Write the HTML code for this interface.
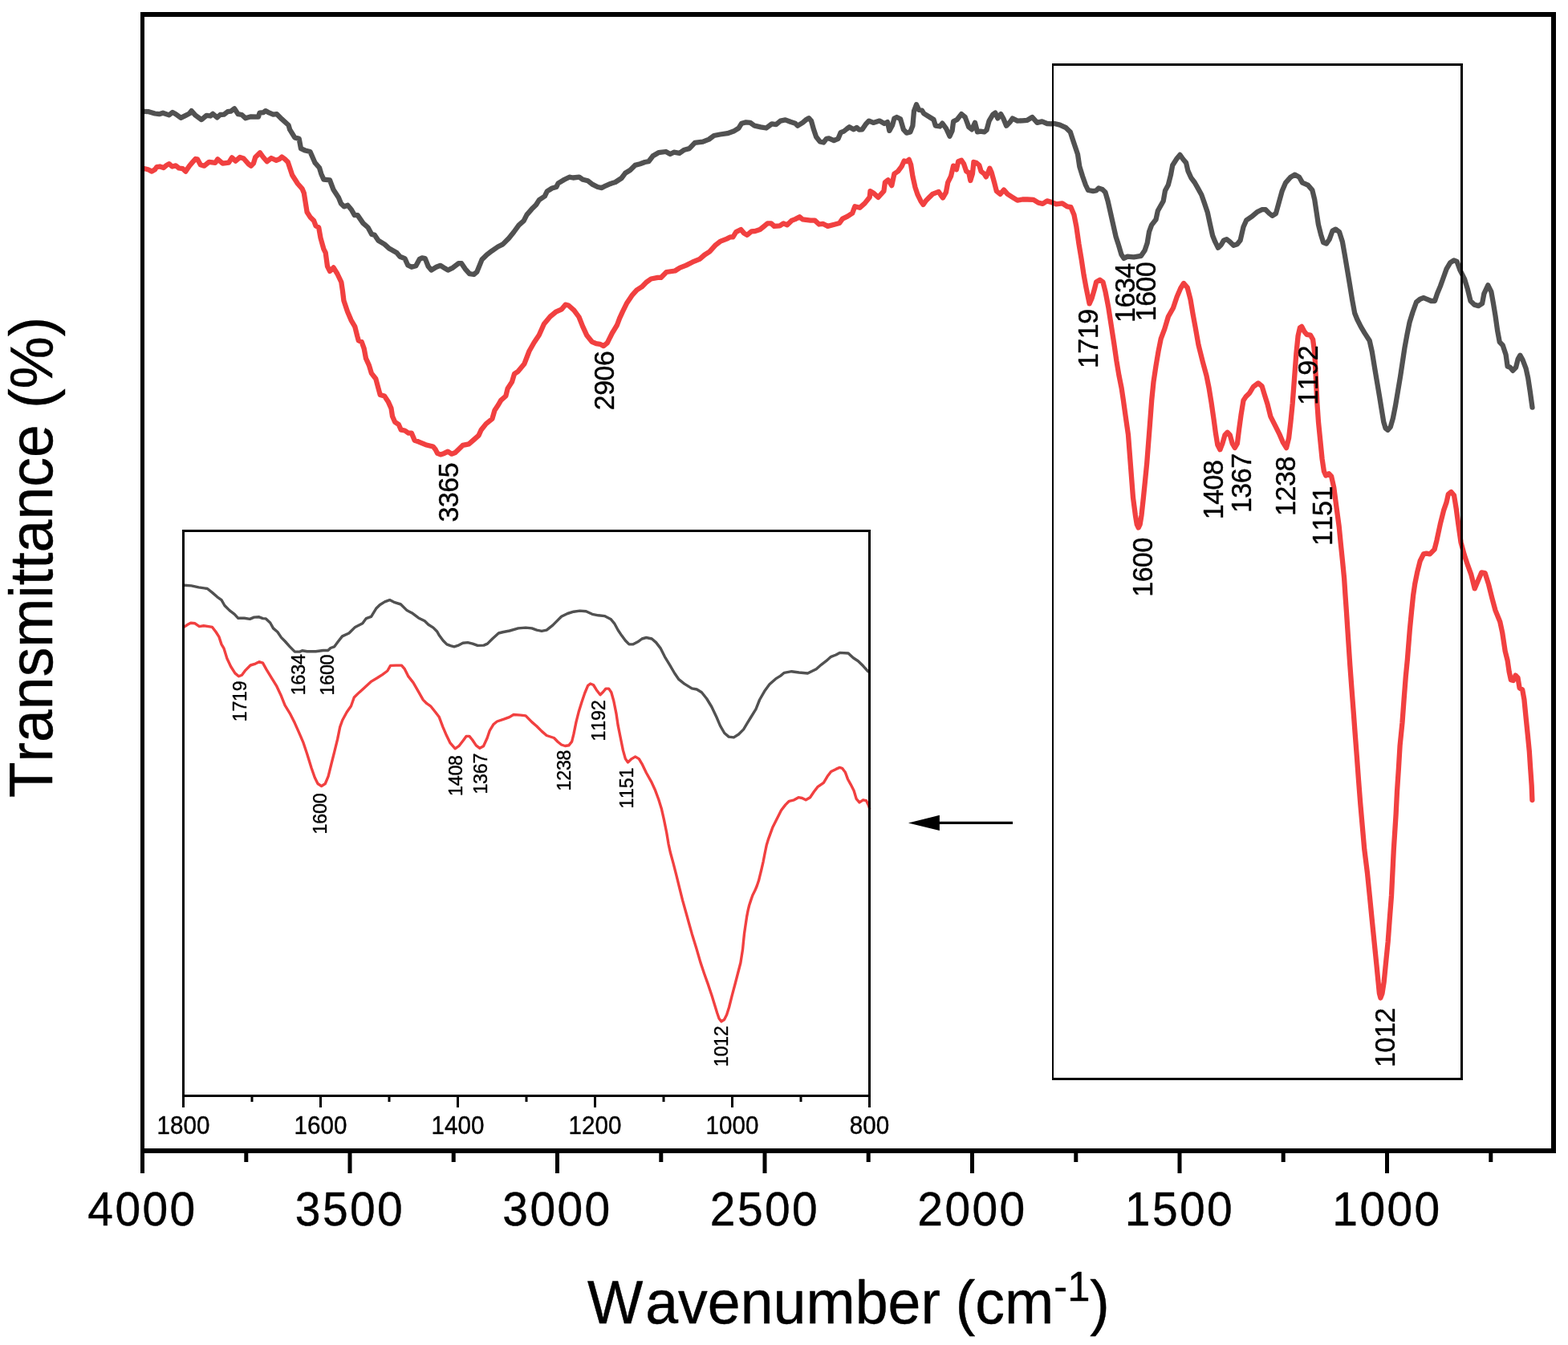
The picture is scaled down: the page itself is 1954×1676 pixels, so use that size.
<!DOCTYPE html>
<html lang="en">
<head>
<meta charset="utf-8">
<title>FTIR spectra</title>
<style>
html,body{margin:0;padding:0;background:#fff;}
body{width:1954px;height:1676px;overflow:hidden;}
svg{display:block;}
text{font-family:"Liberation Sans", Arial, Helvetica, sans-serif;fill:#000;font-kerning:none;stroke:#000;stroke-width:0.4px;stroke-linejoin:round;}
</style>
</head>
<body>
<svg width="1954" height="1676" viewBox="0 0 1954 1676">
<rect x="0" y="0" width="1954" height="1676" fill="#fff"/>
<g fill="none" stroke-linejoin="round" stroke-linecap="round">
<polyline stroke="#515151" stroke-width="6.3" points="178.4,138.8 185.4,139.2 193.0,141.5 198.4,142.2 203.0,140.7 210.7,143.4 215.0,139.9 219.1,142.2 225.3,146.8 231.4,143.8 236.0,141.5 238.6,138.1 243.7,143.8 251.1,149.1 257.5,143.8 262.1,144.5 265.2,141.8 270.6,146.4 274.4,143.0 279.0,142.7 283.6,139.2 287.5,138.7 292.1,135.3 296.7,142.2 301.3,143.0 305.9,147.3 312.8,145.3 322.0,145.6 323.5,140.7 328.1,140.2 330.9,138.1 335.8,140.7 340.4,142.7 345.0,142.2 351.2,148.4 359.6,156.0 361.1,161.4 367.3,171.4 372.7,172.9 375.0,185.2 380.3,187.5 386.5,189.0 392.6,202.9 398.0,209.0 400.3,216.7 403.4,223.6 411.0,224.4 415.6,236.6 421.8,245.9 424.9,253.5 428.7,257.4 433.3,255.8 437.9,261.2 441.8,268.1 445.6,268.1 452.5,278.1 458.6,283.5 463.2,291.9 466.9,292.9 471.5,299.8 479.2,304.4 485.3,309.8 494.5,315.1 498.4,319.8 504.5,322.1 508.3,330.5 512.9,332.8 518.3,331.3 522.9,322.8 526.0,321.3 529.8,322.1 533.7,332.0 537.5,336.6 543.7,332.8 549.0,330.8 554.4,334.3 558.2,336.6 564.4,333.6 571.3,328.2 575.1,328.2 579.7,335.1 585.1,341.2 590.5,342.0 594.3,338.9 600.5,323.6 606.6,317.5 612.7,312.8 620.4,307.5 626.6,304.4 634.2,296.7 640.4,289.0 646.5,280.6 652.7,275.2 656.5,267.6 662.6,260.6 668.0,255.3 671.9,249.1 678.8,244.5 681.8,238.4 688.0,234.5 693.3,233.0 695.6,228.4 703.3,223.8 709.5,220.7 714.1,221.5 721.8,220.7 726.4,223.8 732.5,225.3 738.6,229.9 744.8,233.0 750.0,234.1 754.6,231.6 760.7,228.9 766.8,227.0 774.5,222.0 779.1,215.8 785.3,212.0 791.4,205.9 797.6,204.3 803.7,202.0 808.3,201.2 813.7,194.3 820.6,190.2 829.8,189.0 835.2,192.0 839.8,189.7 846.7,190.8 852.8,186.7 859.0,185.1 865.9,177.9 875.9,176.7 883.5,173.6 889.7,169.0 897.3,167.5 906.6,166.2 914.2,163.6 920.4,159.8 924.2,153.7 929.6,152.4 935.0,152.9 940.3,156.7 948.0,158.3 954.9,159.5 961.8,154.4 967.2,155.2 972.6,150.6 978.7,149.4 984.9,151.8 991.0,153.7 994.1,156.7 1000.2,152.9 1004.8,149.0 1007.9,147.2 1011.0,150.6 1014.0,161.3 1017.1,170.5 1021.7,176.4 1026.3,177.5 1030.0,172.8 1033.0,172.4 1039.2,175.1 1044.5,172.8 1047.6,165.2 1051.5,163.6 1055.3,160.6 1058.4,158.3 1063.7,161.3 1067.6,159.0 1070.6,161.6 1074.5,161.3 1079.1,154.4 1082.9,150.6 1088.3,152.9 1096.0,150.6 1102.1,154.0 1106.0,152.1 1108.3,162.9 1112.1,156.0 1114.4,147.5 1117.5,146.0 1122.1,148.3 1125.9,161.3 1129.8,165.6 1134.4,164.4 1137.4,156.7 1139.0,138.3 1142.0,130.3 1145.1,136.8 1148.9,137.5 1151.2,141.4 1157.4,145.2 1163.5,149.0 1165.8,156.7 1171.2,157.5 1174.3,153.7 1178.9,159.8 1183.5,169.8 1186.6,162.9 1188.1,151.4 1192.7,149.0 1198.1,142.1 1202.7,146.0 1207.3,158.3 1211.1,161.3 1215.0,152.9 1218.0,164.4 1221.9,163.6 1226.5,164.4 1229.5,162.1 1232.6,150.6 1237.2,142.9 1240.3,140.6 1243.4,147.5 1247.2,142.1 1250.3,147.5 1254.1,156.7 1258.7,152.1 1261.8,147.5 1267.9,150.6 1274.1,150.3 1280.2,149.8 1286.4,146.0 1292.5,152.9 1298.6,151.4 1304.8,154.0 1310.0,154.4 1313.0,153.8 1320.7,155.6 1328.4,159.2 1333.8,164.5 1336.8,173.7 1339.9,182.9 1343.0,192.2 1345.3,207.5 1349.1,219.8 1352.9,230.5 1356.0,237.0 1362.2,238.2 1366.0,237.5 1369.1,234.4 1373.7,235.9 1377.5,239.8 1380.6,250.5 1383.7,264.3 1387.5,281.2 1390.6,295.0 1393.6,304.2 1397.5,317.3 1400.5,321.9 1405.1,319.6 1412.8,320.4 1422.0,318.8 1426.6,311.9 1429.7,302.7 1432.0,288.9 1435.1,280.4 1440.5,273.5 1442.8,262.8 1449.7,250.5 1452.0,237.5 1455.8,230.5 1458.9,218.3 1461.2,206.0 1466.6,197.5 1470.4,192.9 1474.2,198.3 1478.1,202.9 1480.4,212.9 1484.2,221.3 1488.8,227.5 1492.7,234.4 1497.3,242.8 1501.1,253.6 1504.9,265.1 1508.0,279.7 1511.1,293.5 1514.2,301.2 1518.0,308.8 1521.8,305.0 1524.9,299.6 1528.7,298.1 1532.6,301.2 1537.2,305.8 1541.8,304.2 1545.6,299.6 1549.5,282.7 1553.3,274.3 1560.2,269.7 1566.4,264.3 1572.5,261.2 1577.1,261.2 1581.7,265.9 1585.5,268.9 1590.0,266.0 1593.8,252.2 1597.6,238.3 1602.2,227.6 1608.4,220.7 1613.8,217.6 1619.1,220.7 1623.0,227.6 1629.9,230.7 1635.3,236.8 1638.3,249.1 1640.6,264.4 1642.9,279.8 1646.0,292.1 1649.1,302.1 1652.9,303.6 1656.7,298.2 1660.6,287.5 1664.4,285.6 1669.0,289.0 1672.9,301.3 1675.9,318.2 1679.0,336.6 1682.1,355.0 1685.1,373.4 1688.2,390.3 1691.3,398.0 1695.9,407.2 1700.5,414.9 1706.7,424.5 1709.8,438.3 1712.8,456.8 1715.9,475.2 1719.0,493.6 1722.0,512.0 1724.3,525.9 1726.6,533.5 1729.4,535.8 1732.8,532.0 1735.9,521.2 1738.9,505.9 1742.0,487.5 1745.1,469.0 1747.4,453.7 1750.4,433.7 1753.5,416.8 1756.6,401.5 1760.4,389.2 1765.0,376.5 1769.6,372.7 1774.2,371.1 1779.6,373.4 1783.4,375.0 1788.0,375.0 1791.1,365.8 1794.9,356.6 1798.8,345.8 1802.6,335.1 1807.2,327.4 1811.8,324.3 1815.6,325.9 1819.5,336.6 1824.9,347.3 1828.7,359.6 1832.5,375.0 1837.1,379.6 1842.5,381.1 1847.1,378.1 1849.4,365.8 1854.3,355.4 1858.3,363.3 1860.9,377.8 1863.5,393.5 1866.1,411.9 1868.8,426.3 1872.7,430.3 1876.6,442.1 1878.6,456.5 1881.9,457.8 1885.2,461.8 1889.1,457.8 1891.7,447.3 1894.4,442.7 1897.6,448.6 1901.6,459.1 1904.2,471.0 1906.8,488.0 1908.8,502.5 1909.5,507.7"/>
<polyline stroke="#F14040" stroke-width="6.3" points="178.4,209.8 184.6,211.3 189.2,213.6 193.0,211.3 195.3,208.2 199.2,207.5 203.8,209.0 207.6,205.9 210.7,204.1 214.5,207.5 219.1,206.4 223.0,209.5 227.6,210.2 231.4,213.6 236.0,206.7 239.9,202.1 243.7,198.0 246.0,198.3 249.8,205.2 254.4,206.7 260.6,201.8 268.3,202.9 271.3,198.3 277.5,203.6 285.1,202.6 289.0,196.4 293.6,200.6 299.0,196.0 303.6,197.5 309.7,204.4 312.8,206.7 315.9,203.6 318.2,196.0 324.0,190.3 328.1,196.0 332.7,201.3 338.1,197.0 344.3,199.8 348.1,198.3 351.2,195.5 355.0,198.3 358.8,202.1 364.2,218.2 371.1,229.0 376.5,235.1 378.8,240.5 382.6,264.3 386.5,270.4 391.1,275.0 393.4,281.2 397.2,283.5 399.5,296.5 403.4,310.3 405.7,314.9 408.0,331.8 411.0,338.0 415.6,333.4 420.3,341.0 425.3,351.5 426.9,362.2 428.4,374.5 433.0,388.3 437.6,399.1 442.2,406.8 445.3,419.0 446.8,424.4 450.7,426.0 453.7,434.4 456.0,446.7 459.9,455.1 462.9,465.1 468.3,472.0 471.4,483.5 473.7,492.0 479.1,493.5 483.7,500.4 487.5,508.9 489.0,518.8 492.1,525.8 496.7,528.8 499.8,535.7 504.4,536.5 509.0,539.6 512.8,539.6 516.7,548.8 521.3,550.3 530.5,554.2 539.7,556.5 542.8,560.3 545.1,564.9 548.9,566.4 553.5,564.9 558.1,562.6 562.7,565.7 567.3,564.1 572.0,559.5 576.6,554.9 584.2,553.4 590.4,548.0 596.5,542.6 599.6,535.7 605.7,528.1 613.4,521.9 616.5,511.2 621.1,504.3 624.2,498.9 630.3,493.5 632.6,484.3 638.0,475.9 641.0,465.9 645.6,462.8 653.3,453.6 659.5,437.5 665.6,426.7 671.8,417.5 677.9,403.7 685.6,394.5 693.2,388.3 700.0,385.3 704.6,379.7 708.4,380.5 715.3,386.6 721.5,395.0 726.1,406.6 731.4,418.1 737.6,425.8 742.9,428.1 747.6,428.8 752.2,431.1 756.8,427.3 762.9,415.0 769.0,405.0 772.1,396.6 776.0,388.1 781.3,377.4 787.5,368.2 793.6,361.3 799.8,357.4 805.9,351.3 811.3,347.5 819.7,345.9 823.6,345.9 830.5,339.0 841.2,337.5 847.3,333.6 855.0,330.6 862.7,326.7 871.9,322.9 878.1,317.5 884.2,313.7 891.9,305.2 898.0,300.6 905.7,297.6 910.3,295.3 913.4,295.3 917.2,289.1 923.3,286.0 927.2,290.6 931.0,292.9 936.4,288.3 941.0,288.0 947.1,286.0 951.8,282.2 956.4,278.4 961.0,278.4 964.8,281.9 971.7,281.4 976.3,278.4 981.0,280.3 986.4,274.9 991.0,273.1 996.4,270.3 1000.2,273.4 1010.0,274.6 1015.4,274.6 1020.7,279.5 1025.4,278.8 1031.5,281.9 1040.7,279.5 1046.1,278.0 1049.9,272.6 1056.1,269.6 1062.2,265.7 1065.3,257.3 1071.4,258.8 1077.6,253.4 1083.7,245.8 1084.5,238.1 1088.3,240.4 1094.4,245.8 1101.4,238.1 1102.9,227.3 1106.7,224.3 1111.3,231.2 1114.4,216.6 1119.0,213.5 1123.6,207.4 1126.7,200.5 1129.8,201.2 1132.8,198.9 1135.1,205.1 1137.4,219.7 1140.5,233.5 1143.6,242.7 1147.4,250.4 1150.5,255.0 1153.6,250.4 1157.4,246.5 1162.0,241.9 1169.7,238.9 1172.7,243.5 1175.0,246.5 1178.9,239.6 1181.2,227.3 1185.0,219.7 1188.1,206.6 1191.9,211.2 1194.2,201.2 1198.1,199.7 1201.1,204.3 1204.2,213.5 1207.3,215.1 1209.3,225.0 1211.9,216.6 1213.4,202.0 1216.5,202.8 1220.3,205.9 1222.6,213.5 1226.5,216.6 1228.8,220.4 1231.9,213.5 1233.4,209.7 1235.7,215.1 1239.5,228.9 1241.8,238.1 1246.4,241.9 1251.0,236.6 1255.6,241.9 1261.8,245.8 1267.9,249.6 1274.1,248.5 1280.2,248.5 1287.9,248.8 1294.0,252.7 1299.4,253.8 1304.8,250.4 1310.0,251.9 1316.1,254.3 1323.8,253.3 1329.9,257.4 1334.5,258.2 1338.4,267.4 1341.4,282.7 1344.5,304.2 1347.6,322.7 1350.6,342.6 1353.7,359.5 1357.6,378.4 1360.7,371.5 1363.8,360.7 1366.1,351.5 1370.7,348.7 1374.5,351.5 1377.6,363.8 1381.4,383.7 1384.5,403.7 1388.3,428.3 1391.4,449.8 1394.5,468.2 1397.6,483.5 1399.9,498.9 1402.9,520.4 1406.0,541.9 1412.0,620.2 1414.9,642.2 1416.8,653.7 1418.7,657.5 1420.6,653.7 1422.5,642.2 1424.9,620.2 1427.3,596.4 1429.2,577.3 1432.9,529.6 1435.2,498.9 1437.5,475.9 1440.5,455.9 1443.6,437.5 1446.7,422.1 1451.3,409.8 1455.9,394.5 1462.0,383.7 1466.6,369.9 1471.2,359.2 1475.1,353.0 1479.7,358.4 1483.5,373.0 1486.6,391.4 1489.7,408.3 1493.5,429.8 1498.9,451.3 1503.5,468.2 1506.6,483.5 1509.6,502.0 1512.7,523.4 1515.0,540.3 1517.3,554.2 1520.4,560.3 1523.4,552.6 1526.5,541.9 1529.6,538.8 1532.7,541.9 1535.7,552.6 1538.8,558.0 1541.9,552.6 1544.2,534.2 1546.5,517.3 1549.5,498.9 1552.6,494.3 1557.2,489.7 1561.8,482.0 1568.0,477.4 1572.6,481.2 1575.6,491.2 1579.5,503.5 1583.3,518.8 1589.5,531.1 1594.1,540.3 1598.7,551.1 1603.1,558.1 1606.1,545.8 1608.4,525.9 1610.7,502.8 1613.0,472.1 1615.3,441.4 1617.6,418.4 1619.9,408.4 1622.2,406.9 1625.3,413.0 1628.4,416.8 1633.0,417.6 1636.1,423.0 1638.4,441.4 1639.9,472.1 1641.4,502.8 1643.0,525.9 1645.3,548.9 1647.6,571.9 1649.9,587.3 1652.2,592.6 1656.0,590.3 1659.1,593.4 1662.2,607.2 1665.8,634.5 1668.7,656.0 1670.8,677.5 1673.0,699.0 1675.1,720.5 1676.5,742.0 1678.0,763.4 1679.4,784.9 1682.3,828.7 1684.4,857.3 1686.6,886.0 1688.7,914.6 1690.9,943.3 1693.0,972.0 1695.2,1000.6 1700.3,1058.7 1703.9,1087.3 1706.8,1116.0 1709.6,1144.6 1712.5,1173.3 1715.4,1202.0 1717.5,1223.4 1718.9,1237.8 1720.4,1243.5 1722.5,1237.8 1724.7,1223.4 1726.8,1202.0 1729.7,1173.3 1731.8,1144.6 1734.0,1116.0 1735.4,1087.3 1736.8,1058.7 1739.6,1014.9 1741.0,986.3 1742.9,957.6 1744.6,929.0 1747.5,900.3 1749.6,871.6 1751.8,843.0 1753.9,821.5 1756.8,784.9 1758.9,763.4 1761.1,742.0 1763.2,727.6 1766.1,713.3 1769.7,699.0 1774.0,690.4 1777.6,689.7 1781.9,690.4 1787.6,684.6 1790.5,673.2 1794.8,653.1 1799.1,635.9 1802.6,625.9 1804.8,615.9 1808.4,613.0 1812.0,617.3 1814.8,634.5 1817.7,656.0 1820.6,676.0 1824.9,691.8 1829.2,704.7 1833.4,716.2 1837.7,733.4 1842.0,723.3 1846.3,713.3 1850.6,714.0 1854.9,727.6 1859.2,744.8 1863.5,760.6 1869.3,774.9 1872.1,787.8 1875.7,811.5 1878.6,822.9 1880.7,837.3 1882.9,847.3 1885.8,848.0 1888.6,841.6 1891.5,844.4 1893.6,857.3 1897.2,859.5 1899.4,871.6 1901.5,893.1 1903.7,914.6 1905.8,936.1 1907.2,957.6 1908.7,979.1 1909.4,997.0"/>
</g>
<g fill="#000" shape-rendering="crispEdges">
<rect x="1311" y="79" width="2" height="1267"/>
<rect x="1820" y="79" width="3" height="1267"/>
<rect x="1311" y="79" width="512" height="3"/>
<rect x="1311" y="1343" width="512" height="3"/>
</g>
<rect x="228.5" y="661.5" width="855.0" height="704.0" fill="#fff" stroke="none"/>
<g fill="none" stroke-linejoin="round" stroke-linecap="round">
<polyline stroke="#515151" stroke-width="3.4" points="229.2,729.2 238.4,729.9 247.6,731.9 258.4,733.5 264.5,738.4 270.7,743.8 276.0,747.6 279.9,754.5 286.0,760.6 292.2,765.3 296.8,770.3 304.4,770.3 311.4,771.4 316.7,769.1 322.9,768.8 327.5,770.6 331.3,770.9 336.7,776.0 340.5,782.9 345.9,787.5 350.5,794.4 355.1,799.0 361.2,805.9 367.4,812.1 373.5,812.1 376.6,810.8 382.7,811.8 393.5,811.8 402.7,810.5 408.8,810.5 411.9,807.5 416.5,805.9 421.1,799.8 426.5,792.9 434.9,789.0 442.6,781.4 451.8,776.8 456.4,770.6 462.6,768.3 468.7,758.3 473.3,753.7 479.5,749.9 485.6,747.6 491.8,750.7 499.4,753.0 507.1,760.6 513.2,763.7 521.5,769.9 529.2,773.7 533.8,778.3 539.9,782.1 544.5,786.7 547.6,792.1 552.2,798.3 556.8,802.9 561.4,804.7 566.0,805.9 570.6,804.4 576.8,801.3 582.9,800.6 589.0,802.1 595.2,804.4 602.9,804.1 607.5,802.1 613.6,796.0 621.3,789.0 627.4,787.5 635.1,786.0 645.9,782.9 655.1,782.1 662.7,782.9 668.9,785.2 675.0,786.3 681.2,785.2 688.8,779.1 695.0,772.9 699.6,768.3 707.3,764.5 714.9,762.2 722.6,761.1 730.3,761.7 738.0,765.3 745.6,766.8 753.3,767.6 761.0,771.4 765.6,776.8 770.2,785.2 774.8,792.1 779.4,798.3 784.0,802.9 788.6,802.9 794.8,799.8 800.0,796.0 805.4,794.5 812.3,796.0 817.6,800.6 823.0,807.6 828.4,818.3 834.5,828.3 840.7,839.0 846.0,846.7 852.9,852.1 862.2,857.9 868.3,859.0 874.4,862.8 880.6,870.5 886.7,880.5 892.9,893.5 897.5,904.3 902.8,913.5 908.2,918.1 914.4,918.9 920.5,915.0 926.6,908.9 931.2,901.2 935.9,893.5 942.0,883.6 946.6,872.0 952.7,861.3 958.9,852.8 966.6,845.9 972.7,842.1 977.3,838.3 986.5,836.7 995.7,838.0 1006.5,839.0 1012.6,836.0 1017.2,833.7 1023.4,828.3 1029.5,823.7 1035.6,818.3 1041.8,816.0 1046.4,813.4 1057.1,814.0 1063.3,819.8 1069.4,823.7 1075.6,829.8 1081.7,836.7"/>
<polyline stroke="#F14040" stroke-width="3.4" points="229.2,781.4 233.8,778.3 237.7,776.3 243.0,776.8 248.4,780.6 253.8,779.8 264.5,781.4 269.1,787.5 273.0,793.7 276.0,802.9 279.1,808.2 282.9,820.5 287.6,830.5 292.9,838.9 297.5,842.8 301.4,841.2 306.0,835.1 312.1,829.0 318.3,827.1 322.9,824.7 327.5,826.2 332.1,834.3 338.2,844.3 344.4,854.3 350.5,867.3 355.1,878.9 361.2,888.8 367.4,901.1 373.5,914.9 378.1,925.7 382.7,939.5 388.1,957.0 392.2,968.8 396.0,976.5 400.6,979.6 405.3,976.5 409.1,967.3 412.9,952.0 416.8,936.6 420.6,921.2 423.7,905.9 426.7,897.5 432.1,887.5 437.5,879.8 441.3,869.0 447.5,862.9 453.6,857.5 462.8,849.1 470.5,844.5 476.6,840.6 482.8,836.0 486.6,829.4 493.5,829.1 500.4,829.1 504.3,833.7 508.9,842.9 515.0,850.6 521.2,861.4 527.3,872.1 531.9,876.7 536.5,879.8 542.7,887.5 547.3,893.6 551.9,905.9 556.5,916.6 561.1,925.9 567.2,932.8 571.8,929.7 577.2,922.8 581.0,917.4 584.9,917.4 588.7,922.0 593.3,928.9 597.9,932.3 602.5,929.7 607.1,919.7 610.2,910.5 614.8,902.8 619.4,899.0 628.6,895.9 634.8,893.6 640.0,890.5 648.9,891.1 655.1,891.9 662.7,899.6 668.9,905.0 675.0,911.1 681.2,916.5 690.4,919.5 695.0,924.2 699.6,928.0 704.2,929.5 708.8,928.8 712.6,924.2 714.9,914.9 718.0,899.6 721.1,887.3 724.9,875.0 728.8,863.5 732.6,854.3 735.7,852.0 739.5,853.5 743.3,859.7 748.0,865.8 751.8,862.0 754.9,858.1 758.7,858.1 761.8,862.7 764.8,873.5 767.9,888.8 770.2,904.2 773.3,919.5 776.4,934.9 779.4,945.6 782.5,949.9 787.1,945.6 791.7,942.9 796.3,945.6 800.0,951.8 805.4,963.0 811.5,973.8 816.1,983.7 820.7,996.0 824.5,1008.3 827.6,1022.1 830.7,1037.5 833.0,1051.3 835.3,1062.0 839.1,1075.9 843.0,1091.2 846.8,1106.6 850.6,1121.9 854.5,1135.7 858.3,1149.5 862.2,1163.4 868.0,1182.2 872.8,1198.9 877.6,1213.2 882.3,1226.4 887.1,1240.7 890.7,1252.6 893.7,1262.2 896.1,1269.3 899.0,1272.9 902.6,1270.5 905.6,1264.6 908.6,1255.0 912.2,1240.7 916.3,1225.2 922.9,1199.7 925.5,1183.3 926.5,1173.1 927.6,1162.8 929.1,1152.6 930.6,1142.4 932.2,1134.2 933.7,1128.0 935.7,1121.9 937.8,1115.7 940.9,1109.6 943.4,1103.5 945.5,1097.3 947.0,1091.2 949.0,1083.0 951.1,1073.8 953.1,1063.5 955.2,1053.3 957.7,1045.1 962.7,1031.3 968.1,1020.6 973.5,1009.8 978.8,1002.9 983.4,998.3 989.6,996.8 995.0,993.7 999.6,994.5 1004.2,996.8 1009.5,993.7 1014.2,986.8 1018.8,980.7 1026.4,975.3 1031.0,967.6 1035.6,961.5 1041.8,958.4 1046.4,956.4 1049.5,957.3 1053.3,962.2 1056.4,970.7 1060.2,977.6 1064.1,985.3 1067.1,995.3 1071.0,999.9 1075.6,996.8 1079.4,997.6 1082.5,1003.7 1083.6,1007.5"/>
</g>
<g fill="#000" shape-rendering="crispEdges">
<rect x="227" y="660" width="3" height="707"/>
<rect x="1082" y="660" width="3" height="707"/>
<rect x="227" y="660" width="858" height="3"/>
<rect x="227" y="1364" width="858" height="3"/>
</g>
<g stroke="#000" stroke-width="3.0">
<line x1="228.5" y1="1365.5" x2="228.5" y2="1380.0"/>
<line x1="399.5" y1="1365.5" x2="399.5" y2="1380.0"/>
<line x1="570.5" y1="1365.5" x2="570.5" y2="1380.0"/>
<line x1="741.5" y1="1365.5" x2="741.5" y2="1380.0"/>
<line x1="912.5" y1="1365.5" x2="912.5" y2="1380.0"/>
<line x1="1083.5" y1="1365.5" x2="1083.5" y2="1380.0"/>
<line x1="314.0" y1="1365.5" x2="314.0" y2="1373.0"/>
<line x1="485.0" y1="1365.5" x2="485.0" y2="1373.0"/>
<line x1="656.0" y1="1365.5" x2="656.0" y2="1373.0"/>
<line x1="827.0" y1="1365.5" x2="827.0" y2="1373.0"/>
<line x1="998.0" y1="1365.5" x2="998.0" y2="1373.0"/>
</g>
<g font-size="29.6" text-anchor="middle" letter-spacing="0">
<text transform="translate(228.5,1412.8) scale(1,1.035)">1800</text>
<text transform="translate(399.5,1412.8) scale(1,1.035)">1600</text>
<text transform="translate(570.5,1412.8) scale(1,1.035)">1400</text>
<text transform="translate(741.5,1412.8) scale(1,1.035)">1200</text>
<text transform="translate(912.5,1412.8) scale(1,1.035)">1000</text>
<text transform="translate(1083.5,1412.8) scale(1,1.035)">800</text>
</g>
<g fill="#000" shape-rendering="crispEdges">
<rect x="175" y="15" width="5" height="1422"/>
<rect x="1933" y="15" width="6" height="1422"/>
<rect x="175" y="15" width="1764" height="6"/>
<rect x="175" y="1431" width="1764" height="6"/>
</g>
<g stroke="#000" stroke-width="5.0">
<line x1="177.5" y1="1433.95" x2="177.5" y2="1462.0"/>
<line x1="436.0" y1="1433.95" x2="436.0" y2="1462.0"/>
<line x1="694.5" y1="1433.95" x2="694.5" y2="1462.0"/>
<line x1="953.0" y1="1433.95" x2="953.0" y2="1462.0"/>
<line x1="1211.5" y1="1433.95" x2="1211.5" y2="1462.0"/>
<line x1="1470.0" y1="1433.95" x2="1470.0" y2="1462.0"/>
<line x1="1728.5" y1="1433.95" x2="1728.5" y2="1462.0"/>
<line x1="306.8" y1="1433.95" x2="306.8" y2="1448.0"/>
<line x1="565.2" y1="1433.95" x2="565.2" y2="1448.0"/>
<line x1="823.8" y1="1433.95" x2="823.8" y2="1448.0"/>
<line x1="1082.2" y1="1433.95" x2="1082.2" y2="1448.0"/>
<line x1="1340.8" y1="1433.95" x2="1340.8" y2="1448.0"/>
<line x1="1599.2" y1="1433.95" x2="1599.2" y2="1448.0"/>
<line x1="1857.8" y1="1433.95" x2="1857.8" y2="1448.0"/>
</g>
<g font-size="57" text-anchor="middle" letter-spacing="2.4">
<text transform="translate(177.5,1527.3) scale(1,1.025)">4000</text>
<text transform="translate(436.0,1527.3) scale(1,1.025)">3500</text>
<text transform="translate(694.5,1527.3) scale(1,1.025)">3000</text>
<text transform="translate(953.0,1527.3) scale(1,1.025)">2500</text>
<text transform="translate(1211.5,1527.3) scale(1,1.025)">2000</text>
<text transform="translate(1470.0,1527.3) scale(1,1.025)">1500</text>
<text transform="translate(1728.5,1527.3) scale(1,1.025)">1000</text>
</g>
<g font-size="34" letter-spacing="-0.45">
<text transform="translate(570.8,650.6) rotate(-90) scale(1,1.04)">3365</text>
<text transform="translate(764.8,511.3) rotate(-90) scale(1,1.04)">2906</text>
<text transform="translate(1367.7,459.1) rotate(-90) scale(1,1.04)">1719</text>
<text transform="translate(1413.7,402.0) rotate(-90) scale(1,1.04)">1634</text>
<text transform="translate(1439.6,400.3) rotate(-90) scale(1,1.04)">1600</text>
<text transform="translate(1435.7,743.8) rotate(-90) scale(1,1.04)">1600</text>
<text transform="translate(1523.8,647.3) rotate(-90) scale(1,1.04)">1408</text>
<text transform="translate(1559.0,639.1) rotate(-90) scale(1,1.04)">1367</text>
<text transform="translate(1613.9,642.9) rotate(-90) scale(1,1.04)">1238</text>
<text transform="translate(1641.7,504.7) rotate(-90) scale(1,1.04)">1192</text>
<text transform="translate(1659.8,679.9) rotate(-90) scale(1,1.04)">1151</text>
<text transform="translate(1737.9,1330.0) rotate(-90) scale(1,1.04)">1012</text>
</g>
<g font-size="23.2" letter-spacing="-0.2">
<text transform="translate(306.9,899.3) rotate(-90) scale(1,1.025)">1719</text>
<text transform="translate(379.8,866.2) rotate(-90) scale(1,1.025)">1634</text>
<text transform="translate(415.9,866.5) rotate(-90) scale(1,1.025)">1600</text>
<text transform="translate(406.7,1039.4) rotate(-90) scale(1,1.025)">1600</text>
<text transform="translate(575.8,992.0) rotate(-90) scale(1,1.025)">1408</text>
<text transform="translate(606.9,989.6) rotate(-90) scale(1,1.025)">1367</text>
<text transform="translate(710.9,985.5) rotate(-90) scale(1,1.025)">1238</text>
<text transform="translate(753.9,923.4) rotate(-90) scale(1,1.025)">1192</text>
<text transform="translate(789.0,1007.6) rotate(-90) scale(1,1.025)">1151</text>
<text transform="translate(906.7,1329.3) rotate(-90) scale(1,1.025)">1012</text>
</g>
<line x1="1169.9" y1="1025.4" x2="1262.0" y2="1025.4" stroke="#000" stroke-width="3.3"/>
<polygon points="1131.9,1025.4 1170.9,1015.8000000000001 1170.9,1035.0" fill="#000"/>
<text transform="translate(731.877001953125,1648.6) scale(1,1.037)" font-size="73.5" letter-spacing="0" dx="0 3 0 0 0 0 0 0 0 0 0 -1.5">Wavenumber (cm<tspan font-size="50.7" dy="-26.5">-1</tspan><tspan dy="26.5">)</tspan></text>
<text transform="translate(65.3,994.2486328125) rotate(-90) scale(1,1.037)" font-size="73.4" letter-spacing="0">Transmittance (%)</text>
</svg>
</body>
</html>
